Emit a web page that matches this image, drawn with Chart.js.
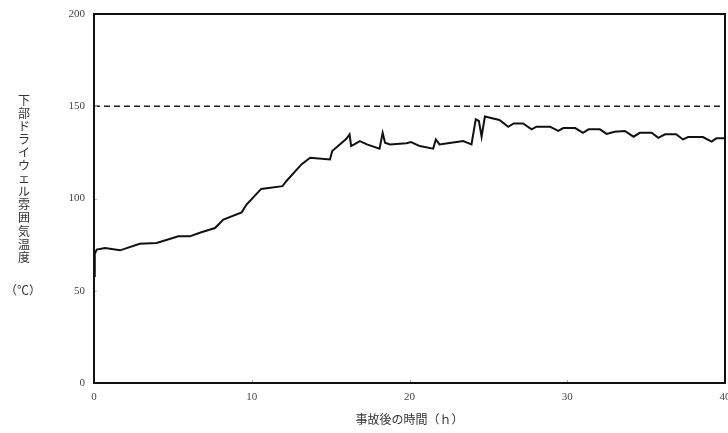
<!DOCTYPE html>
<html>
<head>
<meta charset="utf-8">
<script src="https://cdn.jsdelivr.net/npm/chart.js@4"></script>
<style>
  body { margin: 0; background: #fff; }
</style>
</head>
<body>
<canvas id="graph1" width="728" height="433"></canvas>
<script>
// hours after accident / lower drywell temperature (deg C)
const hours = [0, 0.05, 0.17, 0.7, 1.65, 2.9, 3.97, 5.35, 6.08, 6.8, 7.67, 8.2, 9.36, 9.67, 10.6, 11.95, 12.2, 13.15, 13.7, 14.96,
  15.1, 16.0, 16.2, 16.3, 16.5, 16.85, 17.3, 18.1, 18.3, 18.45, 18.76, 19.8, 20.1, 20.65, 21.5, 21.67, 21.9, 22.98, 23.4, 23.93,
  24.2, 24.4, 24.57, 24.78, 25.7, 26.26, 26.6, 27.2, 27.74, 28.05, 28.9, 29.43, 29.75, 30.5, 31.0, 31.35, 32.07, 32.5, 33.0, 33.65,
  34.2, 34.6, 35.35, 35.77, 36.2, 36.9, 37.34, 37.66, 38.6, 39.15, 39.45, 40];
const temps = [58, 70, 72.3, 73.2, 71.9, 75.5, 75.9, 79.5, 79.5, 81.7, 84, 88.6, 92.5, 96.7, 105.2, 106.7, 109.5, 118.5, 122.1, 121.2,
  125.7, 132.4, 134.8, 128.5, 129.3, 131.1, 129.3, 127, 135.6, 130.2, 129.3, 129.9, 130.6, 128.4, 127, 132, 129.3, 130.6, 131.1, 129.3,
  142.9, 142, 133.5, 144.4, 142.6, 138.9, 140.7, 140.7, 137.5, 138.9, 138.9, 136.6, 138.2, 138.2, 135.6, 137.5, 137.5, 135, 136.2, 136.6,
  133.5, 135.6, 135.6, 132.9, 134.8, 134.8, 132, 133.3, 133.3, 130.8, 132.6, 132.6];
const limitHours = [0, 40];
const limitTemp = [150, 150];

const yTitleChars = ['下', '部', 'ド', 'ラ', 'イ', 'ウ', 'ェ', 'ル', '雰', '囲', '気', '温', '度'];
const yUnit = '（℃）';
const xTitle = '事故後の時間（ｈ）';

const fontFam = "'Liberation Serif', 'Noto Sans CJK JP', serif";

const framePlugin = {
  id: 'frame',
  afterDatasetsDraw(chart) {
    const { ctx, chartArea: a, scales } = chart;
    ctx.save();
    // small inward ticks
    ctx.strokeStyle = '#aaa';
    ctx.lineWidth = 1;
    [10, 20, 30].forEach(v => {
      const x = Math.round(scales.x.getPixelForValue(v)) + 0.5;
      ctx.beginPath(); ctx.moveTo(x, a.bottom); ctx.lineTo(x, a.bottom - 3); ctx.stroke();
    });
    [50, 100, 150].forEach(v => {
      const y = Math.round(scales.y.getPixelForValue(v)) + 0.5;
      ctx.beginPath(); ctx.moveTo(a.left, y); ctx.lineTo(a.left + 3, y); ctx.stroke();
    });
    ctx.strokeStyle = '#111';
    ctx.lineWidth = 2;
    ctx.strokeRect(a.left, a.top, a.right - a.left, a.bottom - a.top);
    // vertical y title
    ctx.fillStyle = '#333';
    ctx.font = "12px 'Noto Sans CJK JP'";
    ctx.textAlign = 'center';
    ctx.textBaseline = 'middle';
    yTitleChars.forEach((c, i) => ctx.fillText(c, 24, 100 + i * 13.1));
    ctx.fillText(yUnit, 23, 290);
    ctx.restore();
  }
};

new Chart(document.getElementById('graph1'), {
  type: 'line',
  data: {
    datasets: [
      {
        label: 'temp',
        data: hours.map((h, i) => ({ x: h, y: temps[i] })),
        borderColor: '#111',
        borderWidth: 2,
        pointRadius: 0,
        tension: 0,
      },
      {
        label: 'limit',
        data: limitHours.map((h, i) => ({ x: h, y: limitTemp[i] })),
        borderColor: '#222',
        borderWidth: 1.3,
        borderDash: [6, 4],
        pointRadius: 0,
      },
    ],
  },
  options: {
    responsive: false,
    animation: false,
    maintainAspectRatio: false,
    layout: { padding: { top: 14, right: 3, left: 0, bottom: 0 } },
    plugins: { legend: { display: false }, tooltip: { enabled: false } },
    scales: {
      x: {
        type: 'linear',
        min: 0,
        max: 40,
        grid: { display: false, drawTicks: false },
        border: { display: false },
        ticks: { stepSize: 10, color: '#444', font: { family: fontFam, size: 11 }, padding: 8, maxRotation: 0 },
        title: { display: true, text: xTitle, color: '#333', font: { family: "'Noto Sans CJK JP'", size: 12 }, padding: { top: 4, bottom: 6 } },
        afterFit: s => { s.height = 50; s.paddingLeft = 0; s.paddingRight = 0; },
      },
      y: {
        min: 0,
        max: 200,
        grid: { display: false, drawTicks: false },
        border: { display: false },
        ticks: { stepSize: 50, color: '#444', font: { family: fontFam, size: 11 }, padding: 9 },
        afterFit: s => { s.width = 94; s.paddingTop = 0; s.paddingBottom = 0; },
      },
    },
  },
  plugins: [framePlugin],
});
</script>
</body>
</html>
